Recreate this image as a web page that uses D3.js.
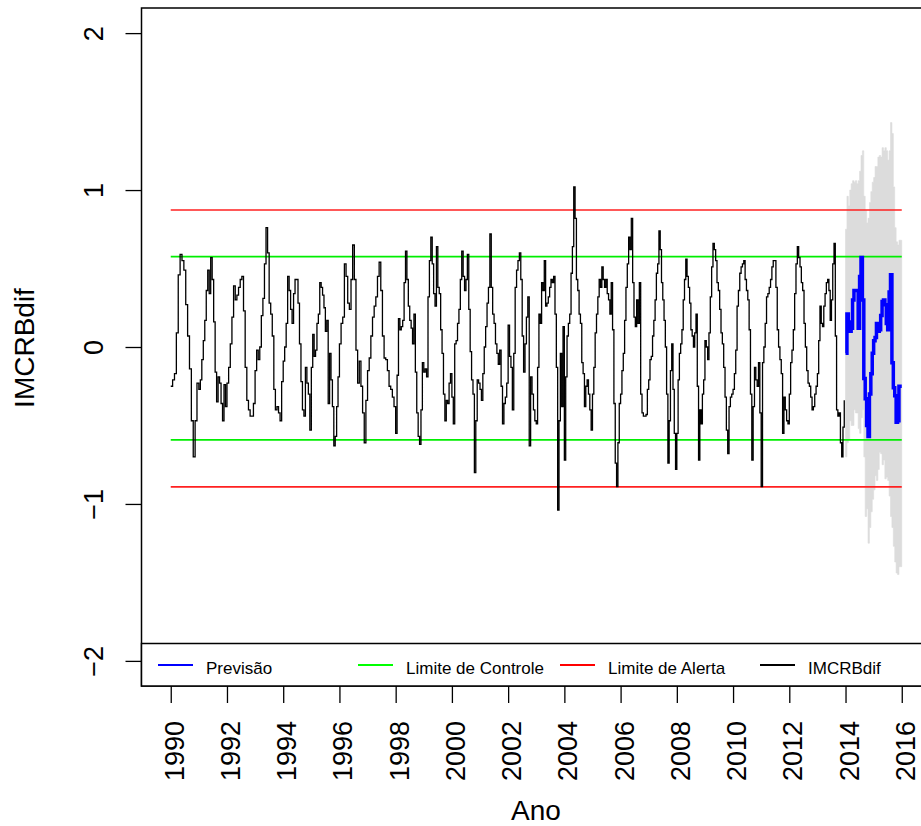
<!DOCTYPE html>
<html>

<head>
    <meta charset="utf-8">
    <style>
        body {
            margin: 0;
            background: #fff;
        }

        svg {
            display: block;
        }

        .axis text {
            font-family: 'Liberation Sans', Arial, sans-serif;
            font-size: 27px;
            fill: #000;
        }

        .axis .domain {
            display: none;
        }

        .axis .tick line {
            stroke: #000;
            stroke-width: 1.3px;
        }

        .legend text {
            font-family: 'Liberation Sans', Arial, sans-serif;
            font-size: 17px;
            fill: #000;
        }
    </style>
</head>

<body>
    <svg width="921" height="826"></svg>
</body>

<script src="https://d3js.org/d3.v7.min.js"></script>

<script>
    let years = d3.range(1990, 2014)
    let imcrbByYear = [
        [-0.25, -0.21, -0.17, 0.09, 0.46, 0.59, 0.55, 0.49, 0.27, 0.07, -0.14, -0.47, -0.70, -0.47, -0.23],
        [-0.27, -0.21, -0.08, 0.04, 0.17, 0.36, 0.49, 0.34, 0.57, 0.43, 0.16, -0.16, -0.35, -0.19, -0.23, -0.36, -0.47, -0.24, -0.38],
        [-0.23, -0.13, 0.02, 0.19, 0.39, 0.30, 0.33, 0.38, 0.43, 0.45, 0.23, -0.13, -0.34, -0.40, -0.44, -0.44, -0.36],
        [-0.15, -0.02, -0.08, 0.00, 0.20, 0.31, 0.53, 0.76, 0.60, 0.28, 0.21, 0.07, -0.27, -0.40, -0.38, -0.42, -0.47, -0.22],
        [-0.09, 0.00, 0.15, 0.45, 0.36, 0.24, 0.15, 0.34, 0.43, 0.43, 0.28, 0.02, -0.22, -0.40, -0.44, -0.13, -0.23, -0.30, -0.53],
        [-0.13, 0.08, -0.06, -0.02, 0.15, 0.21, 0.41, 0.38, 0.33, 0.25, 0.10, 0.17, -0.36, -0.04, -0.21, -0.38, -0.63, -0.57, -0.38, -0.19],
        [0.02, 0.15, 0.19, 0.53, 0.45, 0.28, 0.24, 0.43, 0.65, 0.43, -0.02, -0.23, -0.09, -0.25, -0.42, -0.61, -0.34],
        [-0.15, -0.07, 0.07, 0.19, 0.26, 0.32, 0.45, 0.54, 0.36, 0.07, -0.07, -0.08, -0.15, -0.25, -0.27, -0.32, -0.38],
        [-0.55, -0.18, 0.18, 0.11, 0.13, 0.17, 0.41, 0.61, 0.43, 0.26, 0.17, 0.12, 0.02, 0.21, -0.16, -0.42, -0.57, -0.62, -0.40, -0.10],
        [-0.16, -0.14, -0.19, 0.32, 0.55, 0.70, 0.53, 0.34, 0.26, 0.64, 0.38, 0.34, 0.11, -0.04, -0.30, -0.47, -0.34, -0.36, -0.23, -0.17],
        [-0.32, -0.49, 0.02, 0.04, 0.15, 0.24, 0.43, 0.61, 0.45, 0.36, 0.43, 0.59, 0.24, -0.03, -0.21, -0.30, -0.80, -0.47, -0.21, -0.23],
        [-0.27, -0.34, -0.17, 0.00, 0.13, 0.28, 0.38, 0.72, 0.38, 0.21, 0.15, 0.02, -0.04, -0.11, -0.02, -0.25, -0.49, -0.36, -0.32, -0.23],
        [0.14, -0.06, -0.13, -0.40, -0.04, 0.38, 0.49, 0.55, 0.60, 0.43, 0.07, -0.16, 0.02, 0.19, 0.32, -0.63, -0.19, -0.30, -0.40, -0.47],
        [-0.49, -0.13, 0.21, 0.15, 0.41, 0.36, 0.55, 0.26, 0.28, 0.32, 0.38, 0.43, 0.41, 0.45, 0.21, -0.13, -1.04, -0.47, -0.04, -0.38, 0.13],
        [-0.72, -0.19, 0.07, 0.15, 0.21, 0.47, 0.64, 1.02, 0.82, 0.43, 0.36, 0.21, 0.15, -0.10, -0.17, -0.38, -0.25, -0.21, -0.30, -0.40, -0.53],
        [-0.30, -0.13, 0.09, 0.21, 0.32, 0.43, 0.38, 0.51, 0.43, 0.38, 0.43, 0.34, 0.30, 0.21, 0.41, 0.11, -0.36, -0.74, -0.89, -0.61, -0.36],
        [-0.30, -0.15, -0.04, 0.17, 0.38, 0.53, 0.70, 0.62, 0.82, 0.41, 0.19, 0.13, 0.30, 0.15, 0.41, -0.30, -0.42, -0.44, -0.44, -0.43, -0.27],
        [-0.21, -0.08, -0.06, 0.07, 0.17, 0.30, 0.47, 0.53, 0.74, 0.62, 0.41, 0.30, 0.17, 0.00, -0.30, -0.74, -0.47, -0.15, 0.02, -0.27, -0.55, -0.78],
        [-0.55, -0.21, -0.04, 0.02, 0.11, 0.30, 0.43, 0.56, 0.45, 0.38, 0.28, 0.11, 0.07, 0.00, 0.09, 0.21, -0.25, -0.72, -0.40, -0.49, -0.30, -0.21],
        [0.04, 0.00, -0.08, 0.09, 0.32, 0.51, 0.66, 0.62, 0.55, 0.41, 0.36, 0.24, 0.09, 0.02, -0.13, -0.32, -0.53, -0.68, -0.38, -0.32, -0.30],
        [-0.27, -0.17, -0.02, 0.26, 0.36, 0.47, 0.51, 0.53, 0.55, 0.43, 0.36, 0.30, 0.11, -0.30, -0.72, -0.38, -0.13, -0.21, -0.25, -0.10, -0.42],
        [-0.89, -0.10, 0.00, 0.15, 0.32, 0.34, 0.38, 0.43, 0.51, 0.55, 0.55, 0.38, 0.11, 0.00, -0.08, -0.17, -0.55, -0.32, -0.40, -0.47, -0.49],
        [-0.30, -0.10, -0.02, 0.11, 0.34, 0.53, 0.64, 0.57, 0.51, 0.41, 0.36, 0.15, 0.00, -0.15, -0.23, -0.25, -0.32, -0.40, -0.38, -0.30, -0.25],
        [-0.17, 0.04, 0.26, 0.15, 0.13, 0.26, 0.34, 0.41, 0.43, 0.36, 0.17, 0.30, 0.53, 0.66, 0.07, -0.40, -0.44, -0.42, -0.61, -0.70, -0.51, -0.34]
    ]

    // forecast 2014-2016, 20 steps per year
    let forecastStart = 2014
    let forecastPerYear = 20
    let forecastMean = [-0.04, 0.21, 0.16, 0.10, 0.12, 0.30, 0.36, 0.36, 0.36, 0.12,
        0.45, 0.57, 0.30, -0.20, -0.33, -0.50, -0.57, -0.30, -0.17, -0.04,
        0.04, 0.06, 0.15, 0.10, 0.11, 0.20, 0.29, 0.30, 0.27, 0.15,
        0.11, 0.35, 0.46, -0.10, -0.26, -0.31, -0.48, -0.47, -0.25, -0.25]
    let forecastUpper = [0.75, 0.96, 0.90, 1.00, 1.04, 1.06, 1.05, 1.06, 1.04, 1.06,
        1.12, 1.22, 1.25, 0.96, 0.87, 0.79, 0.82, 0.92, 0.99, 1.05,
        1.08, 1.15, 1.15, 1.21, 1.22, 1.21, 1.27, 1.25, 1.27, 1.25,
        1.19, 1.25, 1.43, 1.36, 1.02, 0.76, 0.67, 0.65, 0.68, 0.68]
    let forecastLower = [-0.70, -0.61, -0.59, -0.47, -0.50, -0.50, -0.40, -0.42, -0.42, -0.52,
        -0.55, -0.45, -0.40, -0.70, -1.08, -1.03, -1.25, -1.15, -1.05, -0.97,
        -0.91, -0.82, -0.85, -0.78, -0.67, -0.68, -0.75, -0.72, -0.84, -0.83,
        -0.85, -0.95, -1.08, -1.15, -1.27, -1.37, -1.44, -1.45, -1.40, -1.40]

    // horizontal limits
    let controlLimits = [0.576, -0.592]
    let alertLimits = [0.873, -0.891]
    let limitSpan = [1990, 2016]

    let xTicks = d3.range(1990, 2017, 2)
    let yTicks = [-2, -1, 0, 1, 2]

    let legendItems = [
        { label: "Previsão", color: "#0000ff" },
        { label: "Limite de Controle", color: "#00ff00" },
        { label: "Limite de Alerta", color: "#ff0000" },
        { label: "IMCRBdif", color: "#000000" }
    ]

    let svg = d3.select("svg")

    // plot box (right edge lies just outside the picture)
    let box = { left: 141.5, top: 8, right: 931, bottom: 686 }

    let x = d3.scaleLinear()
        .domain([1988.96, 2017.04])
        .range([box.left, box.right])

    let y = d3.scaleLinear()
        .domain([-2.16, 2.16])
        .range([box.bottom, box.top])

    // build the series
    let observed = years.flatMap(function (yr, k) {
        let vals = imcrbByYear[k]
        return vals.map(function (v, j) { return { t: yr + j / vals.length, v: v } })
    })

    let forecast = forecastMean.map(function (v, i) {
        return {
            t: forecastStart + i / forecastPerYear,
            v: v,
            lo: forecastLower[i],
            hi: forecastUpper[i]
        }
    })
    // close the last step at the end of the horizon
    let lastF = forecast[forecast.length - 1]
    let forecastClosed = forecast.concat([{ t: forecastStart + forecast.length / forecastPerYear, v: lastF.v, lo: lastF.lo, hi: lastF.hi }])

    // grey band of the forecast
    let band = d3.area()
        .curve(d3.curveStepAfter)
        .x(d => x(d.t))
        .y0(d => y(d.lo))
        .y1(d => y(d.hi))

    svg.append("path")
        .datum(forecastClosed)
        .attr("d", band)
        .style("fill", "#dcdcdc")
        .style("stroke", "#dcdcdc")
        .style("stroke-width", 0.6)

    // limit lines
    function hline(value, color) {
        svg.append("line")
            .attr("x1", x(limitSpan[0]))
            .attr("x2", x(limitSpan[1]))
            .attr("y1", y(value))
            .attr("y2", y(value))
            .style("stroke", color)
            .style("stroke-width", "1.6px")
    }
    alertLimits.forEach(v => hline(v, "#ff2020"))
    controlLimits.forEach(v => hline(v, "#00ee00"))

    // observed series
    let line = d3.line()
        .curve(d3.curveStepAfter)
        .x(d => x(d.t))
        .y(d => y(d.v))

    svg.append("path")
        .datum(observed)
        .attr("d", line)
        .style("fill", "none")
        .style("stroke", "#000")
        .style("stroke-width", "1.3px")

    // forecast mean
    svg.append("path")
        .datum(forecastClosed)
        .attr("d", line)
        .style("fill", "none")
        .style("stroke", "#0000ff")
        .style("stroke-width", "3.5px")

    // axes
    let yAxis = svg.append("g")
        .attr("class", "axis")
        .attr("transform", `translate(${box.left},0)`)
        .call(d3.axisLeft(y).tickValues(yTicks).tickSize(16).tickFormat(d3.format("d")))

    yAxis.selectAll(".tick text")
        .attr("x", null)
        .attr("dy", null)
        .attr("text-anchor", "middle")
        .attr("transform", "translate(-39,0) rotate(-90)")

    let xAxis = svg.append("g")
        .attr("class", "axis")
        .attr("transform", `translate(0,${box.bottom})`)
        .call(d3.axisBottom(x).tickValues(xTicks).tickSize(17).tickFormat(d3.format("d")))

    xAxis.selectAll(".tick text")
        .attr("y", null)
        .attr("dy", null)
        .attr("text-anchor", "end")
        .attr("transform", "translate(12.5,35) rotate(-90)")

    // frame
    svg.append("rect")
        .attr("x", box.left)
        .attr("y", box.top)
        .attr("width", box.right - box.left)
        .attr("height", box.bottom - box.top)
        .style("fill", "none")
        .style("stroke", "#000")
        .style("stroke-width", "1.5px")

    // axis titles
    svg.append("text")
        .attr("transform", "translate(536,820)")
        .style("text-anchor", "middle")
        .style("font-family", "'Liberation Sans', Arial, sans-serif")
        .style("font-size", "28px")
        .text("Ano")

    svg.append("text")
        .attr("transform", "translate(34,348) rotate(-90)")
        .style("text-anchor", "middle")
        .style("font-family", "'Liberation Sans', Arial, sans-serif")
        .style("font-size", "28px")
        .text("IMCRBdif")

    // legend box along the bottom of the plot
    let legend = svg.append("g").attr("class", "legend")

    legend.append("rect")
        .attr("x", box.left)
        .attr("y", 643.5)
        .attr("width", box.right - box.left)
        .attr("height", box.bottom - 643.5)
        .style("fill", "#fff")
        .style("stroke", "#000")
        .style("stroke-width", "1.5px")

    let legendX = [158, 358, 560, 760]

    let item = legend.selectAll(".item")
        .data(legendItems)
        .join("g")
        .attr("class", "item")
        .attr("transform", (d, i) => `translate(${legendX[i]},665)`)

    item.append("line")
        .attr("x1", 0)
        .attr("x2", 35)
        .style("stroke", d => d.color)
        .style("stroke-width", "2px")

    item.append("text")
        .attr("x", 48)
        .attr("y", 9)
        .text(d => d.label)
</script>

</html>
